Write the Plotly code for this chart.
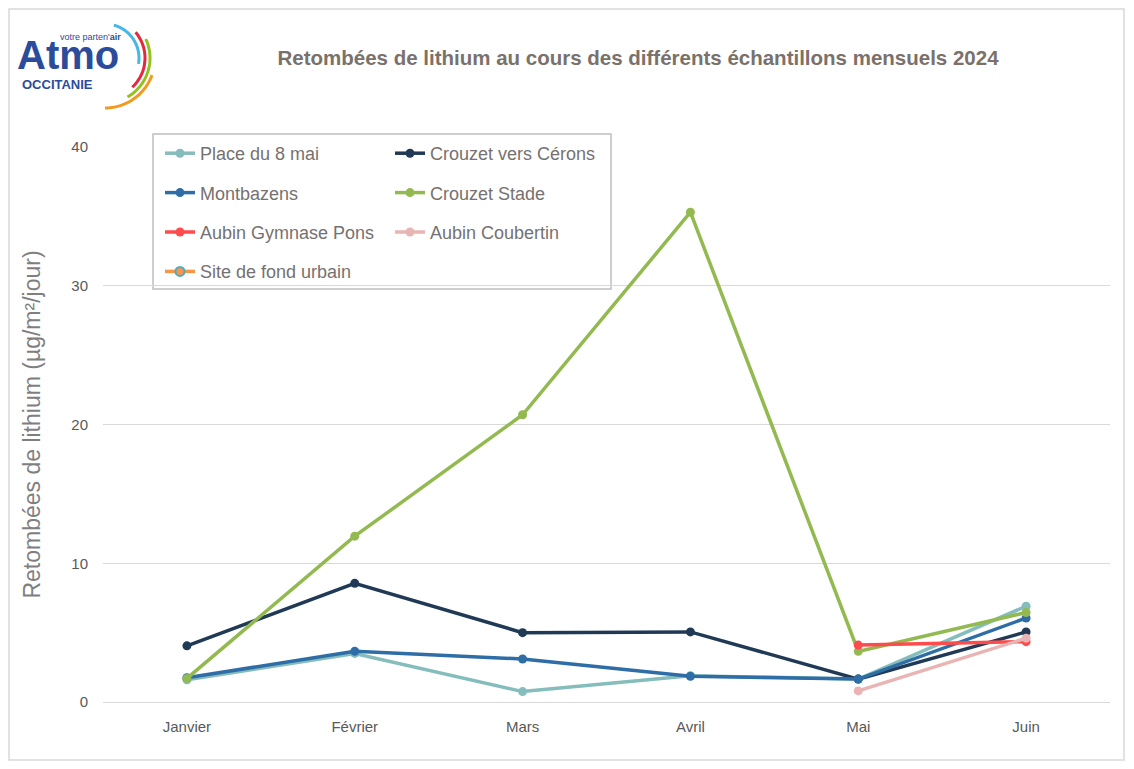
import numpy as np
import plotly.graph_objects as go

# --- Data ---
months = ["Janvier", "Février", "Mars", "Avril", "Mai", "Juin"]

place_8_mai = [1.6, 3.5, 0.75, 1.9, 1.65, 6.9]
crouzet_cerons = [4.05, 8.55, 5.0, 5.05, 1.65, 5.05]
montbazens = [1.75, 3.65, 3.1, 1.85, 1.65, 6.05]
crouzet_stade = [1.7, 11.95, 20.7, 35.3, 3.65, 6.45]
aubin_gymnase = [None, None, None, None, 4.1, 4.35]
aubin_coubertin = [None, None, None, None, 0.8, 4.6]
site_fond = [None, None, None, None, None, None]

y_ticks = [0, 10, 20, 30, 40]

# page body has an 8px margin: figure pixel = screen pixel - 8
OFF = 8
W, H = 1134 - 2 * OFF, 769 - 2 * OFF
L, R, T, B = 103 - OFF, 1110 - OFF, 147 - OFF, 702 - OFF

FONT = "Liberation Sans Narrow, Arial Narrow, Liberation Sans, Arial"


def px(x, y):
    # screen pixel -> paper coords
    x, y = x - OFF, y - OFF
    return (x - L) / (R - L), (B - y) / (B - T)


fig = go.Figure()

series = [
    ("Place du 8 mai", place_8_mai, "#84BDBC", None, "legend"),
    ("Crouzet vers Cérons", crouzet_cerons, "#203A56", None, "legend2"),
    ("Montbazens", montbazens, "#2E6DA6", None, "legend"),
    ("Crouzet Stade", crouzet_stade, "#93B951", None, "legend2"),
    ("Aubin Gymnase Pons", aubin_gymnase, "#FF4B4B", None, "legend"),
    ("Aubin Coubertin", aubin_coubertin, "#E8B5B4", None, "legend2"),
    ("Site de fond urbain", site_fond, "#F79646", "#4BACC6", "legend"),
]

for name, vals, col, edge, leg in series:
    fig.add_trace(
        go.Scatter(
            x=months,
            y=vals,
            name=name,
            mode="lines+markers",
            line=dict(color=col, width=3.5),
            marker=dict(size=9, color=col,
                        line=dict(color=edge or col, width=2 if edge else 0)),
            legend=leg,
            legendgroup=name,
        )
    )

legend_style = dict(
    font=dict(family=FONT, size=18, color="#767171"),
    bgcolor="rgba(0,0,0,0)",
    borderwidth=0,
    tracegroupgap=13,
    itemwidth=30,
    yanchor="top",
    xanchor="left",
)

lx, ly = px(160, 135)
lx2, _ = px(390, 135)

fig.update_layout(
    width=W,
    height=H,
    margin=dict(l=L, r=W - R, t=T, b=H - B),
    paper_bgcolor="white",
    plot_bgcolor="white",
    title=dict(
        text="<b>Retombées de lithium au cours des différents échantillons mensuels 2024</b>",
        x=(638 - OFF) / W,
        xanchor="center",
        y=1 - (58 - OFF) / H,
        yanchor="middle",
        font=dict(family=FONT, size=20.5, color="#7A716B"),
    ),
    legend=dict(x=lx, y=ly, **legend_style),
    legend2=dict(x=lx2, y=ly, **legend_style),
    font=dict(family=FONT, color="#595959"),
)

fig.update_xaxes(
    type="category",
    range=[-0.5, 5.5],
    showgrid=False,
    showline=False,
    ticks="",
    tickfont=dict(size=15, color="#595959"),
    ticklabelstandoff=14,
)

fig.update_yaxes(
    range=[0, 40],
    tickvals=y_ticks,
    gridcolor="#D9D9D9",
    gridwidth=1,
    zeroline=True,
    zerolinecolor="#D9D9D9",
    zerolinewidth=1,
    showline=False,
    tickfont=dict(size=15, color="#595959"),
    ticklabelstandoff=14,
    title=dict(
        text="Retombées de lithium (µg/m²/jour)",
        font=dict(family=FONT, size=23, color="#7F7F7F"),
        standoff=24,
    ),
)

shapes = []
# legend box
x0, y0 = px(153, 134)
x1, y1 = px(611, 289)
shapes.append(dict(type="rect", xref="paper", yref="paper", x0=x0, y0=y0, x1=x1, y1=y1,
                   line=dict(color="#BFBFBF", width=1.5), fillcolor="rgba(0,0,0,0)", layer="below"))
# outer chart frame
x0, y0 = px(9, 9)
x1, y1 = px(1124, 760)
shapes.append(dict(type="rect", xref="paper", yref="paper", x0=x0, y0=y0, x1=x1, y1=y1,
                   line=dict(color="#D9D9D9", width=1.5), fillcolor="rgba(0,0,0,0)", layer="below"))

# logo arcs (centre, radius, start/end angle, colour)
arcs = [
    (105, 58, 34, 75, -10, "#45B8E5"),
    (105, 58, 40, 40, -47, "#E4293F"),
    (105, 58, 45, 25, -60, "#95C11F"),
    (105, 58, 50, -20, -90, "#F39A1E"),
]
for cx, cy, r, a0, a1, c in arcs:
    angs = np.radians(np.linspace(a0, a1, 30))
    pts = [px(cx + r * np.cos(a), cy - r * np.sin(a)) for a in angs]
    path = "M " + " L ".join(f"{p[0]:.5f},{p[1]:.5f}" for p in pts)
    shapes.append(dict(type="path", xref="paper", yref="paper", path=path,
                       line=dict(color=c, width=3)))
fig.update_layout(shapes=shapes)

# logo text
ax, ay = px(68, 55)
fig.add_annotation(xref="paper", yref="paper", x=ax, y=ay, text="<b>Atmo</b>", showarrow=False,
                   font=dict(family="Liberation Sans, Arial", size=40, color="#2B4C9B"),
                   xanchor="center", yanchor="middle")
ax, ay = px(57, 84)
fig.add_annotation(xref="paper", yref="paper", x=ax, y=ay, text="<b>OCCITANIE</b>", showarrow=False,
                   font=dict(family="Liberation Sans, Arial", size=13, color="#2B4C9B"),
                   xanchor="center", yanchor="middle")
ax, ay = px(90, 37)
fig.add_annotation(xref="paper", yref="paper", x=ax, y=ay, text="votre parten'<b>air</b>", showarrow=False,
                   font=dict(family="Liberation Sans Narrow, Liberation Sans, Arial", size=9, color="#2B4C9B"),
                   xanchor="center", yanchor="middle")

fig.write_html("out.html")
